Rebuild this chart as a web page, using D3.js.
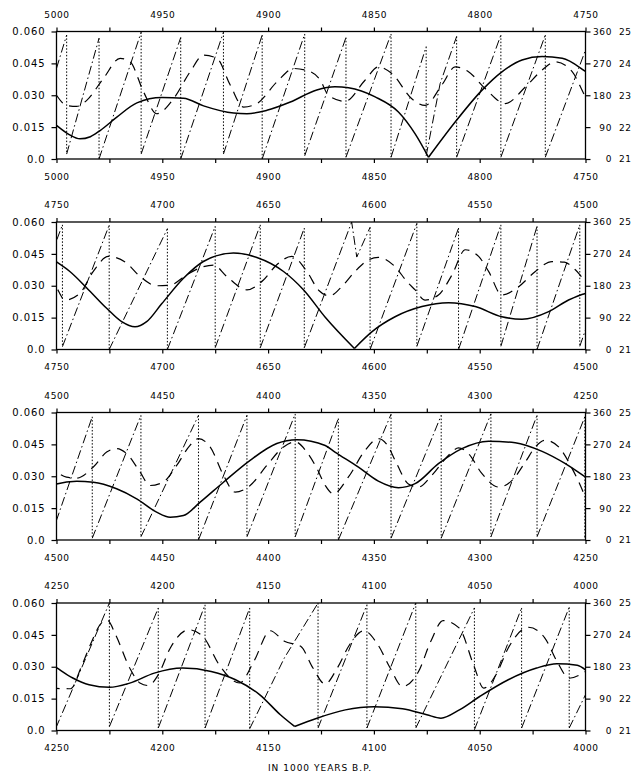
<!DOCTYPE html>
<html>
<head>
<meta charset="utf-8">
<script src="https://cdn.jsdelivr.net/npm/d3@7/dist/d3.min.js"></script>
<style>
  body { margin: 0; background: #fff; }
  text { font-family: "DejaVu Sans", sans-serif; font-size: 9px; fill: #000; letter-spacing: 0.6px; }
  .domain { display: none; }
  .eccAxis text { font-size: 10px; letter-spacing: 0.9px; }
</style>
</head>
<body>
<svg id="chart" width="637" height="775"></svg>
<script>
// panels: each shows 250 kyr, starting at these ages (1000 years B.P.)
const panelStarts = [5000, 4750, 4500, 4250];
const panelSpan = 250;

const eccTicks = [0, 0.015, 0.030, 0.045, 0.060];
const eccTickLabels = ["0.0", "0.015", "0.030", "0.045", "0.060"];
const precTicks = [0, 90, 180, 270, 360];
const oblTickLabels = ["21", "22", "23", "24", "25"];
const xTitle = "IN 1000 YEARS B.P.";

// eccentricity [kyr B.P., e]
const eccentricity = [
  [5000, 0.0158], [4994, 0.0115], [4988.9, 0.0095], [4984, 0.0105], [4979.4, 0.0134],
  [4971.5, 0.0197], [4962, 0.0264], [4950.2, 0.0289], [4940, 0.0286], [4930.5, 0.0250],
  [4916.3, 0.0216], [4910, 0.0213], [4900.6, 0.0229], [4889.5, 0.0268], [4877, 0.0325],
  [4868.4, 0.0340], [4862, 0.0335], [4849.4, 0.0292], [4838.4, 0.0221], [4830.5, 0.0118],
  [4824.2, 0.0008], [4811.6, 0.0174], [4799, 0.0323], [4789.5, 0.0410], [4780, 0.0466],
  [4770.5, 0.0482], [4761, 0.0474], [4750, 0.0412],
  [4743.7, 0.0367], [4735.8, 0.0291], [4726.3, 0.0194], [4719.2, 0.0131], [4712.9, 0.0107],
  [4707.4, 0.0131], [4700.3, 0.0215], [4690, 0.0335], [4680.6, 0.0414], [4666.4, 0.0454],
  [4655.3, 0.0433], [4642.7, 0.0367], [4633.2, 0.0280], [4623, 0.0152],
  [4609.2, 0.0005], [4601, 0.0083], [4590, 0.0154], [4577.3, 0.0202], [4564.7, 0.0220],
  [4552.1, 0.0202], [4539.5, 0.0154], [4530, 0.0142], [4517.4, 0.0178], [4508, 0.0233],
  [4500, 0.0264],
  [4490.5, 0.0276], [4482.6, 0.0272], [4471.6, 0.0241], [4462.1, 0.0194], [4452.7, 0.0131],
  [4446.3, 0.0107], [4440, 0.0115], [4432.1, 0.0178], [4421.1, 0.0272], [4408.5, 0.0375],
  [4395.9, 0.0454], [4386.4, 0.0472], [4373, 0.0445], [4368.4, 0.0414], [4357.3, 0.0343],
  [4347.9, 0.0277], [4338.4, 0.0246], [4330.5, 0.0265], [4319.5, 0.0359], [4308.4, 0.0430],
  [4295.8, 0.0465], [4283.2, 0.0458], [4270.5, 0.0417], [4259.5, 0.0359], [4250, 0.0296],
  [4242.3, 0.0247], [4234.6, 0.0215], [4225, 0.0203], [4215.4, 0.0223], [4203.8, 0.0270],
  [4190.4, 0.0294], [4176.9, 0.0278], [4165.4, 0.0239], [4153.9, 0.0168], [4144.2, 0.0074],
  [4137.5, 0.0019], [4126.9, 0.0058], [4113.5, 0.0097], [4100, 0.0112], [4086.5, 0.0102],
  [4075, 0.0074], [4068.3, 0.0058], [4059.6, 0.0097], [4050, 0.0160], [4036.5, 0.0239],
  [4023.1, 0.0294], [4013.5, 0.0314], [4003.9, 0.0307], [4000, 0.0285]
];

// obliquity [kyr B.P., degrees]
const obliquity = [
  [5000, 23.0], [4995.2, 22.68], [4990.5, 22.65], [4985.7, 22.84], [4977.8, 23.53],
  [4969.9, 24.16], [4965.2, 24.05], [4958.9, 23.11], [4952.6, 22.42], [4944.7, 22.89],
  [4936.8, 23.74], [4930.5, 24.26], [4924.2, 24.16], [4917.9, 23.32], [4911.6, 22.63],
  [4905.3, 22.74], [4895.8, 23.42], [4887.9, 23.84], [4880, 23.74], [4875.3, 23.47],
  [4871.5, 23.0], [4863.6, 22.81], [4854.2, 23.47], [4847.9, 23.89], [4841.5, 23.68],
  [4832.1, 22.89], [4825.8, 22.68], [4817.9, 23.32], [4811.6, 23.89], [4805.3, 23.74],
  [4797.4, 23.21], [4787.9, 22.74], [4778.4, 23.26], [4770.5, 23.79], [4764.2, 24.05],
  [4756.3, 23.74], [4750, 22.95],
  [4746, 22.55], [4739, 22.76], [4732.6, 23.45], [4725.5, 23.92], [4716.9, 23.71],
  [4710.5, 23.29], [4702.7, 23.0], [4696.3, 23.02], [4688.5, 23.34], [4680.6, 23.6],
  [4675.8, 23.65], [4669.5, 23.29], [4660, 22.87], [4652.2, 23.18], [4645.9, 23.66],
  [4638.8, 23.92], [4631.7, 23.45], [4626, 22.85], [4621, 22.68], [4615.2, 22.97],
  [4608.9, 23.45], [4602.6, 23.81], [4597.9, 23.89], [4590, 23.6], [4584.4, 23.13],
  [4580.5, 22.87], [4575.8, 22.55], [4569.5, 22.71], [4563.1, 23.34], [4556.8, 24.13],
  [4550.5, 23.92], [4545.8, 23.45], [4539.5, 22.71], [4531.6, 22.97], [4523.7, 23.45],
  [4515.8, 23.76], [4510, 23.74], [4504.8, 23.5], [4500, 23.15],
  [4495.3, 22.97], [4490.5, 22.94], [4482.6, 23.29], [4476.3, 23.76], [4471.6, 23.87],
  [4466.1, 23.66], [4460.5, 23.13], [4455.8, 22.71], [4449.5, 22.82], [4443.2, 23.34],
  [4436.9, 23.97], [4432.9, 24.18], [4427.4, 23.92], [4421.1, 23.03], [4415.6, 22.5],
  [4408.5, 22.71], [4400.6, 23.34], [4392.7, 23.92], [4387.2, 24.08], [4381.7, 23.76],
  [4376.9, 23.24], [4373, 22.71], [4369.2, 22.45], [4362.1, 22.97], [4354.2, 23.81],
  [4347.9, 24.18], [4343.9, 24.0], [4339.2, 23.39], [4333.7, 22.76], [4328.9, 22.66],
  [4322.6, 23.03], [4314.7, 23.66], [4310, 23.89], [4305.3, 23.71], [4298.9, 23.08],
  [4291, 22.66], [4284.7, 22.87], [4278.4, 23.45], [4273.7, 23.92], [4269, 24.13],
  [4262.7, 23.92], [4256.3, 23.24], [4251.4, 22.55], [4250, 22.32],
  [4243.3, 22.31], [4238.5, 22.96], [4233.7, 23.74], [4228.8, 24.37], [4226, 24.46],
  [4222.1, 24.01], [4215.4, 22.96], [4210.6, 22.49], [4206.7, 22.41], [4201.9, 22.75],
  [4196.2, 23.59], [4187.5, 24.16], [4180.8, 23.95], [4173.1, 23.06], [4163.5, 22.49],
  [4156.7, 23.17], [4149, 24.13], [4142.3, 23.8], [4134.6, 23.64], [4128.8, 22.96],
  [4123.1, 22.46], [4117.3, 22.96], [4111.5, 23.69], [4104.8, 24.13], [4098.1, 23.69],
  [4092.3, 22.96], [4086.5, 22.38], [4078.9, 22.85], [4073.1, 23.8], [4067.3, 24.45],
  [4059.6, 24.21], [4052.9, 23.06], [4048.1, 22.33], [4042.3, 22.75], [4036.5, 23.59],
  [4026.9, 24.24], [4019.2, 23.9], [4013.5, 23.17], [4007.7, 22.64], [4000, 22.85]
];

// longitude of perihelion [kyr B.P., degrees]; a drop marks the 360 -> 0 wrap
const precession = [
  [5000, 256], [4995.2, 350], [4995.2, 14], [4979.9, 341], [4979.9, 0], [4960.0, 358],
  [4960.0, 14], [4941.3, 343], [4941.3, 0], [4921.1, 358], [4921.1, 14], [4902.8, 350],
  [4902.8, 0], [4882.7, 353], [4882.7, 9], [4863.2, 343], [4863.2, 5], [4841.9, 353],
  [4841.9, 5], [4825.3, 317], [4825.3, 9], [4818.7, 213], [4810.9, 346], [4810.9, 5],
  [4790.0, 350], [4790.0, 5], [4769.0, 350], [4769.0, 5],
  [4747.2, 352], [4747.2, 8], [4725.1, 351], [4725.1, 0], [4697.6, 341], [4697.6, 0],
  [4675.0, 348], [4675.0, 5], [4653.7, 352], [4653.7, 5], [4632.9, 343], [4632.9, 5],
  [4610.5, 360], [4608.1, 261], [4601.8, 345], [4601.8, 0], [4579.7, 356], [4579.7, 9],
  [4560.0, 343], [4560.0, 0], [4540.0, 352], [4540.0, 9], [4522.9, 348], [4522.9, 0],
  [4502.7, 352], [4502.7, 9],
  [4483.1, 348], [4483.1, 5], [4460.1, 352], [4460.1, 9], [4432.9, 352], [4432.9, 0],
  [4410.0, 352], [4410.0, 9], [4387.2, 356], [4387.2, 9], [4366.8, 343], [4366.8, 0],
  [4341.9, 355], [4341.9, 5], [4318.2, 352], [4318.2, 5], [4294.7, 356], [4294.7, 9],
  [4272.9, 352], [4272.9, 9], [4250.3, 348], [4250.3, 7],
  [4225.0, 360], [4225.0, 11], [4201.9, 346], [4201.9, 7], [4179.8, 355], [4179.8, 7],
  [4158.7, 346], [4158.7, 5], [4142.3, 205], [4126.4, 360], [4126.4, 7], [4103.3, 355],
  [4103.3, 7], [4080.2, 360], [4080.2, 7], [4052.5, 346], [4052.5, 2], [4030.2, 346],
  [4030.2, 7], [4007.7, 348], [4007.7, 7], [4000, 101]
];

const svg = d3.select("#chart");
const left = 56.5, right = 585.5, ph = 127.5;
const tops = panelStarts.map((d, i) => 31.5 + i * 190.5);

// split precession into rising runs and wrap drops
const runs = [], drops = [];
let run = [precession[0]];
for (let i = 1; i < precession.length; i++) {
  const a = precession[i - 1], b = precession[i];
  if (a[1] - b[1] > 180) {
    drops.push([a, b]);
    runs.push(run);
    run = [b];
  } else run.push(b);
}
runs.push(run);

// eccentricity touches ~0 with a sharp V: break the smooth curve there
const eccPieces = [];
let piece = [eccentricity[0]];
for (let i = 1; i < eccentricity.length; i++) {
  const d = eccentricity[i];
  piece.push(d);
  const nxt = eccentricity[i + 1];
  if (nxt && d[1] < 0.003 && d[1] < eccentricity[i - 1][1] && d[1] < nxt[1]) {
    eccPieces.push(piece);
    piece = [d];
  }
}
eccPieces.push(piece);

panelStarts.forEach((start, i) => {
  const end = start - panelSpan;
  const top = tops[i], bot = top + ph;
  const x = d3.scaleLinear().domain([start, end]).range([left, right]);
  const yE = d3.scaleLinear().domain([0, 0.06]).range([bot, top]);
  const yP = d3.scaleLinear().domain([0, 360]).range([bot, top]);
  const yO = d3.scaleLinear().domain([21, 25]).range([bot, top]);
  const inRange = d => d[0] <= start + 15 && d[0] >= end - 15;

  const g = svg.append("g");
  g.append("clipPath").attr("id", "clip" + i)
    .append("rect").attr("x", left).attr("y", top - 1).attr("width", right - left).attr("height", ph + 2);
  const plot = g.append("g").attr("clip-path", `url(#clip${i})`);

  // precession: dash-dot rising runs + dotted wrap lines
  const pLine = d3.line().x(d => x(d[0])).y(d => yP(d[1]));
  plot.selectAll(".prec").data(runs.filter(r => r.some(inRange))).join("path")
    .attr("class", "prec").attr("d", pLine)
    .attr("fill", "none").attr("stroke", "#000").attr("stroke-width", 1)
    .attr("stroke-dasharray", "9,3,1.5,3");
  plot.selectAll(".wrap").data(drops.filter(d => inRange(d[0]))).join("line")
    .attr("class", "wrap")
    .attr("x1", d => x(d[0][0])).attr("x2", d => x(d[1][0]))
    .attr("y1", d => yP(d[0][1])).attr("y2", d => yP(d[1][1]))
    .attr("stroke", "#000").attr("stroke-width", 1).attr("stroke-dasharray", "1.5,1.8");

  // obliquity: long dashes
  plot.append("path").datum(obliquity.filter(inRange))
    .attr("d", d3.line().x(d => x(d[0])).y(d => yO(d[1])).curve(d3.curveMonotoneX))
    .attr("fill", "none").attr("stroke", "#000").attr("stroke-width", 1.2)
    .attr("stroke-dasharray", "10,7");

  // eccentricity: solid
  const eLine = d3.line().x(d => x(d[0])).y(d => yE(d[1])).curve(d3.curveMonotoneX);
  plot.selectAll(".ecc").data(eccPieces.map(p => p.filter(inRange)).filter(p => p.length > 1)).join("path")
    .attr("class", "ecc").attr("d", eLine)
    .attr("fill", "none").attr("stroke", "#000").attr("stroke-width", 1.5);

  // frame
  g.append("rect").attr("x", left).attr("y", top).attr("width", right - left).attr("height", ph)
    .attr("fill", "none").attr("stroke", "#000").attr("stroke-width", 1.3);

  const yearTicks = d3.range(start, end - 1, -25);
  const fmt = d => (d % 50 === 0 ? d : "");
  g.append("g").attr("transform", `translate(0,${top})`)
    .call(d3.axisTop(x).tickValues(yearTicks).tickFormat(fmt).tickSize(4).tickPadding(10).tickSizeOuter(0));
  g.append("g").attr("transform", `translate(0,${bot})`)
    .call(d3.axisBottom(x).tickValues(yearTicks).tickFormat(fmt).tickSize(4).tickPadding(10.5).tickSizeOuter(0));

  g.append("g").attr("class", "eccAxis").attr("transform", `translate(${left},0)`)
    .call(d3.axisLeft(yE).tickValues(eccTicks).tickFormat((d, k) => eccTickLabels[k])
      .tickSize(5).tickPadding(6).tickSizeOuter(0));

  const rAx = g.append("g").attr("transform", `translate(${right},0)`)
    .call(d3.axisRight(yP).tickValues(precTicks).tickSize(5).tickPadding(6).tickSizeOuter(0));
  rAx.selectAll("text").attr("text-anchor", "end").attr("x", 612 - right);
  rAx.selectAll(".tick").append("text")
    .attr("x", 619 - right).attr("dy", "0.32em").attr("fill", "#000")
    .attr("text-anchor", "start")
    .text((d, k) => oblTickLabels[k]);

  g.selectAll(".tick line").attr("stroke-width", 1.2);
  g.selectAll(".tick text").attr("font-family", null).attr("font-size", null);
});

svg.append("text").attr("x", 320).attr("y", 771).attr("text-anchor", "middle")
  .style("letter-spacing", "1px").text(xTitle);
</script>
</body>
</html>
